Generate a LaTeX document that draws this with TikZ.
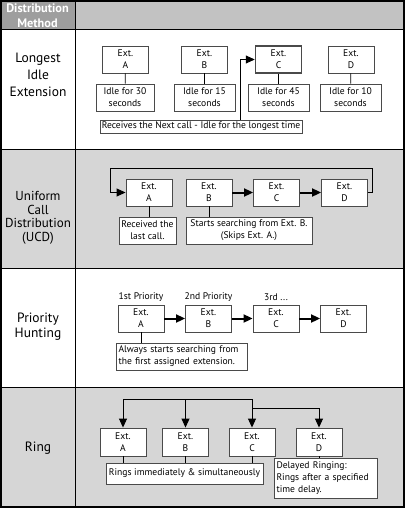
\documentclass[tikz,border=0pt]{standalone}
\usepackage{fontspec}
\setmainfont{PT Sans}
\usetikzlibrary{arrows.meta,positioning}
\definecolor{headdark}{HTML}{9E9E9E}
\definecolor{headlight}{HTML}{C2C2C2}
\definecolor{rowgray}{HTML}{D6D6D6}
\definecolor{boxline}{HTML}{4A4A4A}

\begin{document}
\begin{tikzpicture}[
    x=1pt, y=-1pt,
    >={Triangle[length=9pt,width=8pt]},
    every node/.style={font=\fontsize{9.6}{12}\selectfont},
    ext/.style={
        rectangle,
        draw=boxline,
        line width=0.9pt,
        fill=white,
        minimum width=46pt,
        minimum height=27pt,
        inner sep=1pt,
        align=center
    },
    note/.style={
        rectangle,
        draw=boxline,
        line width=0.8pt,
        fill=white,
        inner sep=2pt,
        minimum height=27pt,
        align=center
    },
    method/.style={align=center, font=\fontsize{13.5}{17}\selectfont},
    flow/.style={->, line width=2pt},
    wire/.style={line width=0.8pt},
    wirearr/.style={->, line width=0.9pt}
]
    \useasboundingbox (0,0) rectangle (405,508);

    % === TABLE ===
    \fill[headdark] (0,0) rectangle (75,30);
    \fill[headlight] (75,0) rectangle (405,30);
    \fill[rowgray] (0,149) rectangle (405,268);
    \fill[rowgray] (0,387) rectangle (405,508);
    \foreach \y in {30,149,268,387} {
        \draw[line width=1pt] (0,\y) -- (405,\y);
    }
    \draw[line width=1pt] (75,0) -- (75,508);
    \draw[line width=1.6pt] (0.8,0.8) rectangle (404.2,507.2);

    \node[align=center, text=white, font=\fontsize{12.3}{14.5}\selectfont\bfseries] (head) at (37.5,15.5) {Distribution\\Method};

    % Method names
    \node[method] (mlongest) at (38,75) {Longest\\Idle\\Extension};
    \node[method, font=\fontsize{13}{13.5}\selectfont] (mucd) at (38,218) {Uniform\\Call\\Distribution\\(UCD)};
    \node[method, font=\fontsize{13.5}{15}\selectfont] (mprio) at (38,327) {Priority\\Hunting};
    \node[method] (mring) at (38,448) {Ring};

    % === LONGEST IDLE EXTENSION ===
    \node[ext] (la) at (125.5,59.5) {Ext.\\A};
    \node[ext] (lb) at (204.5,59.5) {Ext.\\B};
    \node[ext, line width=1.5pt] (lc) at (278.5,59.5) {Ext.\\C};
    \node[ext] (ld) at (351,59.5) {Ext.\\D};

    \node[note, minimum width=58pt] (ia) at (125,97.5) {Idle for 30\\seconds};
    \node[note, minimum width=61pt] (ib) at (204.5,97.5) {Idle for 15\\seconds};
    \node[note, minimum width=61pt] (ic) at (278.5,97.5) {Idle for 45\\seconds};
    \node[note, minimum width=61pt] (id) at (350.5,97.5) {Idle for 10\\seconds};

    \foreach \e/\i in {la/ia, lb/ib, lc/ic, ld/id} {
        \draw[wire] (\e) -- (\i);
    }

    \node[note, minimum width=202pt, minimum height=13pt, inner sep=1pt] (lrecv) at (201,126.5) {Receives the Next call - Idle for the longest time};

    \coordinate (lturn) at (240,0);
    \draw[wirearr] (lrecv.north -| lturn) |- (lc.west);

    % === UNIFORM CALL DISTRIBUTION ===
    \node[ext] (ua) at (149,192.5) {Ext.\\A};
    \node[ext] (ub) at (209,192.5) {Ext.\\B};
    \node[ext] (uc) at (276.5,192.5) {Ext.\\C};
    \node[ext] (ud) at (344.5,192.5) {Ext.\\D};

    \draw[flow] (ub) -- (uc);
    \draw[flow] (uc) -- (ud);

    % loop back to A
    \coordinate (uloopr) at (372,168);
    \coordinate (uloopl) at (110,168);
    \draw[wirearr] (ud.east) -| (uloopr) -- (uloopl) |- (ua.west);

    \node[note, minimum width=57pt] (urecv) at (147.5,230.5) {Received the\\last call.};
    \node[note, minimum width=126pt] (ustart) at (249,230.5) {Starts searching from Ext. B.\\(Skips Ext. A.)};

    \draw[wire] (ua.south) -- (ua.south |- urecv.north);
    \draw[wire] (ub.south) -- (ub.south |- ustart.north);

    % === PRIORITY HUNTING ===
    \node[ext] (pa) at (141,318.5) {Ext.\\A};
    \node[ext] (pb) at (208.5,318.5) {Ext.\\B};
    \node[ext] (pc) at (276,318.5) {Ext.\\C};
    \node[ext] (pd) at (343.5,318.5) {Ext.\\D};

    \foreach \s/\t in {pa/pb, pb/pc, pc/pd} {
        \draw[flow] (\s) -- (\t);
    }

    \node[above=0pt of pa] (pfirst) {1st Priority};
    \node[above=0pt of pb] (psecond) {2nd Priority};
    \node[above=0pt of pc] (pthird) {3rd ...};

    \node[note, minimum width=131pt, text width=126pt, align=left] (palways) at (181.5,356.5) {Always starts searching from\\the first assigned extension.};
    \draw[wire] (pa.south) -- (pa.south |- palways.north);

    % === RING ===
    \node[ext, minimum height=28pt] (ra) at (123,442) {Ext.\\A};
    \node[ext, minimum height=28pt] (rb) at (185.5,442) {Ext.\\B};
    \node[ext, minimum height=28pt] (rc) at (252,442) {Ext.\\C};
    \node[ext, minimum height=28pt] (rd) at (319,442) {Ext.\\D};

    \coordinate (rbus) at (0,399);
    \coordinate (rbusd) at (0,408);
    \draw[wire] (ra.north |- rbus) -- (rc.north |- rbus);
    \foreach \n in {ra, rb, rc} {
        \draw[wirearr] (\n.north |- rbus) -- (\n.north);
    }
    \draw[wirearr] (rc.north |- rbusd) -| (rd.north);

    \node[note, minimum width=157pt, minimum height=21pt] (rnow) at (184.5,473.5) {Rings immediately \& simultaneously};
    \node[note, minimum width=103pt, minimum height=40pt, text width=98pt, align=left] (rdelay) at (325.5,478) {Delayed Ringing:\\Rings after a specified\\time delay.};

    \foreach \n in {ra, rb, rc} {
        \draw[wire] (\n.south) -- (\n.south |- rnow.north);
    }
    \draw[wire] (rd.south) -- (rd.south |- rdelay.north);
\end{tikzpicture}
\end{document}
